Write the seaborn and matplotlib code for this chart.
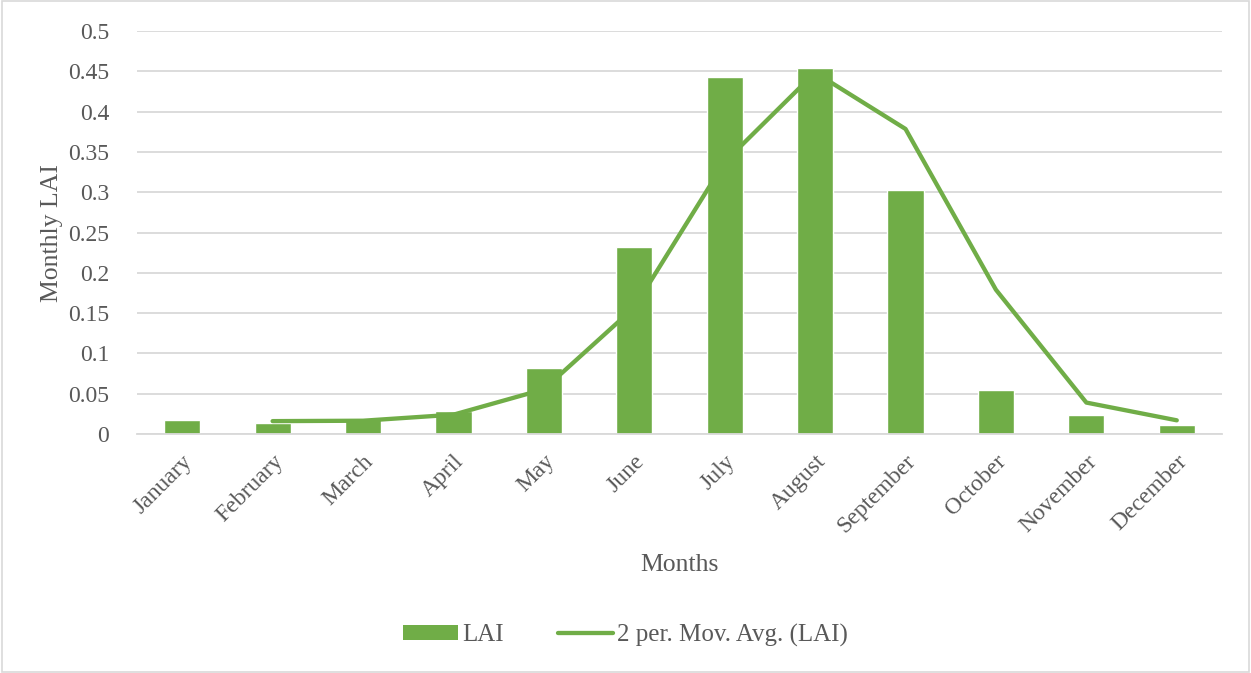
import numpy as np
import pandas as pd
import matplotlib
matplotlib.use("Agg")
import matplotlib.pyplot as plt
import seaborn as sns
from matplotlib.patches import Patch, Rectangle
from matplotlib.lines import Line2D

months = ["January", "February", "March", "April", "May", "June", "July",
          "August", "September", "October", "November", "December"]
lai = [0.018, 0.014, 0.019, 0.029, 0.082, 0.232, 0.443, 0.454, 0.303,
       0.055, 0.023, 0.011]
y_ticks = [0, 0.05, 0.1, 0.15, 0.2, 0.25, 0.3, 0.35, 0.4, 0.45, 0.5]
y_tick_labels = ["0", "0.05", "0.1", "0.15", "0.2", "0.25", "0.3", "0.35",
                 "0.4", "0.45", "0.5"]

df = pd.DataFrame({"Month": months, "LAI": lai})
# two-period moving average trendline
df["MA"] = df["LAI"].rolling(2).mean()

GREEN = "#70AD47"
TEXT = "#595959"
GRID = "#D9D9D9"

sns.set_theme(style="white")
plt.rcParams["font.family"] = ["Liberation Serif", "DejaVu Serif"]

fig = plt.figure(figsize=(12.51, 6.73), dpi=100)
ax = fig.add_axes([0.1095, 0.3551, 0.9768 - 0.1095, 0.9539 - 0.3551])

sns.barplot(data=df, x="Month", y="LAI", color=GREEN, saturation=1,
            width=0.4, ax=ax, zorder=2)
ma = df.dropna(subset=["MA"])
sns.lineplot(x=ma.index.to_numpy(), y=ma["MA"].to_numpy(), color=GREEN,
             linewidth=3.1, ax=ax, zorder=3,
             solid_capstyle="round", solid_joinstyle="round")

ax.set_xlim(-0.5, len(months) - 0.5)
ax.set_ylim(0, 0.5)
ax.set_yticks(y_ticks)
ax.set_yticklabels(y_tick_labels)
ax.yaxis.grid(True, color=GRID, linewidth=1.3, zorder=0)
ax.set_axisbelow(True)
for side in ["top", "right", "left"]:
    ax.spines[side].set_visible(False)
ax.spines["bottom"].set_color(GRID)
ax.spines["bottom"].set_linewidth(1.3)
ax.tick_params(axis="both", length=0, colors=TEXT, labelsize=17)
ax.tick_params(axis="y", pad=20)
ax.set_xticks(range(len(months)))
ax.set_xticklabels(months, rotation=45, ha="right", va="top",
                   rotation_mode="anchor")
ax.tick_params(axis="x", pad=12)

ax.set_xlabel("Months", fontsize=18.5, color=TEXT, labelpad=12)
ax.set_ylabel("Monthly LAI", fontsize=18.5, color=TEXT, labelpad=4)

handles = [Patch(facecolor=GREEN, edgecolor="none", label="LAI"),
           Line2D([0], [0], color=GREEN, linewidth=3.1,
                  solid_capstyle="round", label="2 per. Mov. Avg. (LAI)")]
leg = fig.legend(handles=handles, loc="center", bbox_to_anchor=(0.5, 0.056),
                 ncol=2, frameon=False, fontsize=18, handlelength=2.2,
                 handleheight=0.55, handletextpad=0.15, columnspacing=2.2)
for t in leg.get_texts():
    t.set_color(TEXT)

fig.patches.append(Rectangle((0.0015, 0.002), 0.997, 0.996,
                             transform=fig.transFigure, fill=False,
                             edgecolor=GRID, linewidth=1.2))

fig.savefig("out.png", dpi=100, facecolor="white")
